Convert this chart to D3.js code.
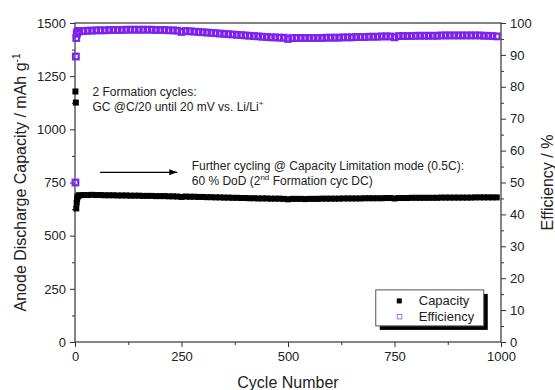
<!DOCTYPE html>
<html>
<head>
<meta charset="utf-8">
<script src="https://cdn.jsdelivr.net/npm/d3@7"></script>
<style>
  html, body { margin: 0; padding: 0; background: #fff; }
  svg { display: block; font-family: "Liberation Sans", Arial, Helvetica, sans-serif; }
</style>
</head>
<body>
<svg id="chart" width="555" height="390"></svg>
<script>
// Cycle numbers (two formation cycles, then every 10th cycle of the long-term test)
const cycles = [
  1, 2, 3, 4, 5, 6, 8, 10,
  20, 30, 40, 50, 60, 70, 80, 90, 100, 110,
  120, 130, 140, 150, 160, 170, 180, 190, 200, 210,
  220, 230, 240, 250, 260, 270, 280, 290, 300, 310,
  320, 330, 340, 350, 360, 370, 380, 390, 400, 410,
  420, 430, 440, 450, 460, 470, 480, 490, 500, 510,
  520, 530, 540, 550, 560, 570, 580, 590, 600, 610,
  620, 630, 640, 650, 660, 670, 680, 690, 700, 710,
  720, 730, 740, 750, 760, 770, 780, 790, 800, 810,
  820, 830, 840, 850, 860, 870, 880, 890, 900, 910,
  920, 930, 940, 950, 960, 970, 980, 990
];

// Anode discharge capacity, mAh g^-1
const capacity = [
  1178, 1126, 628, 655, 672, 682, 688, 690,
  691, 691, 692, 691, 691, 690, 690, 690, 689, 689,
  689, 688, 688, 688, 687, 687, 687, 686, 686, 686,
  685, 685, 684, 682, 684, 683, 683, 682, 682, 681,
  681, 680, 680, 679, 679, 678, 678, 677, 677, 676,
  676, 675, 675, 675, 674, 674, 674, 673, 671, 673,
  673, 673, 672, 673, 673, 673, 674, 674, 674, 674,
  674, 675, 675, 675, 675, 675, 676, 676, 676, 676,
  676, 677, 677, 675, 677, 677, 677, 678, 678, 678,
  678, 678, 678, 678, 679, 679, 679, 679, 679, 679,
  679, 679, 680, 680, 680, 680, 680, 680
];

// Coulombic efficiency, %
const efficiency = [
  50.0, 89.5, 95.3, 96.6, 97.0, 97.2, 97.4, 97.5,
  97.5, 97.6, 97.6, 97.7, 97.7, 97.7, 97.8, 97.8, 97.8, 97.8,
  97.9, 97.9, 97.9, 97.9, 97.9, 97.9, 97.9, 97.8, 97.8, 97.8,
  97.7, 97.7, 97.6, 97.2, 97.5, 97.4, 97.3, 97.2, 97.1, 97.0,
  96.9, 96.8, 96.7, 96.6, 96.5, 96.4, 96.3, 96.2, 96.1, 96.0,
  95.9, 95.8, 95.7, 95.6, 95.5, 95.5, 95.4, 95.4, 95.0, 95.3,
  95.3, 95.3, 95.3, 95.3, 95.3, 95.3, 95.3, 95.4, 95.4, 95.4,
  95.4, 95.5, 95.5, 95.5, 95.6, 95.6, 95.6, 95.7, 95.7, 95.7,
  95.8, 95.8, 95.8, 95.5, 95.9, 95.9, 95.9, 95.9, 96.0, 96.0,
  96.0, 96.0, 96.0, 96.0, 96.1, 96.1, 96.1, 96.1, 96.1, 96.1,
  96.1, 96.1, 96.1, 96.1, 96.0, 96.0, 95.9, 95.8
];

const cycleTicks = [0, 250, 500, 750, 1000];
const cycleMinorTicks = [125, 375, 625, 875];
const capacityTicks = [0, 250, 500, 750, 1000, 1250, 1500];
const capacityMinorTicks = [125, 375, 625, 875, 1125, 1375];
const efficiencyTicks = [0, 10, 20, 30, 40, 50, 60, 70, 80, 90, 100];
const efficiencyMinorTicks = [5, 15, 25, 35, 45, 55, 65, 75, 85, 95];
const seriesNames = ["Capacity", "Efficiency"];

const W = 555, H = 390;
const margin = { top: 23, right: 54, bottom: 48, left: 75 };
const iw = W - margin.left - margin.right;
const ih = H - margin.top - margin.bottom;

const EFF_COLOR = "#7d22ee";
const AXIS_COLOR = "#333";
const TEXT_COLOR = "#222";

const svg = d3.select("#chart");
const g = svg.append("g").attr("transform", `translate(${margin.left},${margin.top})`);

const x = d3.scaleLinear().domain([0, 1000]).range([0, iw]);
const yCap = d3.scaleLinear().domain([0, 1500]).range([ih, 0]);
const yEff = d3.scaleLinear().domain([0, 100]).range([ih, 0]);

// ---- axes -----------------------------------------------------------
function styleAxis(sel) {
  sel.select(".domain").remove();
  sel.selectAll(".tick line").attr("stroke", AXIS_COLOR).attr("stroke-width", 1);
  sel.selectAll(".tick text")
    .attr("fill", TEXT_COLOR)
    .style("font-size", "13px");
}

g.append("g").attr("transform", `translate(0,${ih})`)
  .call(d3.axisBottom(x).tickValues(cycleTicks).tickSize(5).tickPadding(5).tickFormat(d3.format("d")))
  .call(styleAxis);
g.append("g").attr("transform", `translate(0,${ih})`)
  .call(d3.axisBottom(x).tickValues(cycleMinorTicks).tickSize(3).tickFormat(""))
  .call(styleAxis);

g.append("g")
  .call(d3.axisLeft(yCap).tickValues(capacityTicks).tickSize(5).tickPadding(4).tickFormat(d3.format("d")))
  .call(styleAxis);
g.append("g")
  .call(d3.axisLeft(yCap).tickValues(capacityMinorTicks).tickSize(3).tickFormat(""))
  .call(styleAxis);

g.append("g").attr("transform", `translate(${iw},0)`)
  .call(d3.axisRight(yEff).tickValues(efficiencyTicks).tickSize(5).tickPadding(4).tickFormat(d3.format("d")))
  .call(styleAxis);
g.append("g").attr("transform", `translate(${iw},0)`)
  .call(d3.axisRight(yEff).tickValues(efficiencyMinorTicks).tickSize(3).tickFormat(""))
  .call(styleAxis);

// plot frame
g.append("rect")
  .attr("x", 0).attr("y", 0).attr("width", iw).attr("height", ih)
  .attr("fill", "none").attr("stroke", AXIS_COLOR).attr("stroke-width", 1.2);

// ---- data -----------------------------------------------------------
const points = cycles.map((c, i) => ({ cycle: c, cap: capacity[i], eff: efficiency[i] }));

const CAP_SIZE = 6;
g.append("g").selectAll("rect")
  .data(points)
  .join("rect")
  .attr("x", d => x(d.cycle) - CAP_SIZE / 2)
  .attr("y", d => yCap(d.cap) - CAP_SIZE / 2)
  .attr("width", CAP_SIZE).attr("height", CAP_SIZE)
  .attr("fill", "#000");

const EFF_SIZE = 5.6;
g.append("g").selectAll("rect")
  .data(points)
  .join("rect")
  .attr("x", d => x(d.cycle) - EFF_SIZE / 2)
  .attr("y", d => yEff(d.eff) - EFF_SIZE / 2)
  .attr("width", EFF_SIZE).attr("height", EFF_SIZE)
  .attr("fill", "none")
  .attr("stroke", EFF_COLOR)
  .attr("stroke-width", 2.2);

// ---- annotations ----------------------------------------------------
const ann = g.append("g").attr("fill", TEXT_COLOR).style("font-size", "12px");

const t1 = ann.append("text").attr("x", x(41)).attr("y", yCap(1157));
t1.text("2 Formation cycles:");
const t2 = ann.append("text").attr("x", x(41)).attr("y", yCap(1087));
t2.append("tspan").text("GC @C/20 until 20 mV vs. Li/Li");
t2.append("tspan").attr("dy", -5).style("font-size", "8px").text("+");

svg.append("defs").append("marker")
  .attr("id", "arrowhead")
  .attr("markerUnits", "userSpaceOnUse")
  .attr("markerWidth", 9).attr("markerHeight", 7)
  .attr("refX", 8).attr("refY", 3.5)
  .attr("orient", "auto")
  .append("path").attr("d", "M0,0.5 L8,3.5 L0,6.5 Z").attr("fill", "#000");

g.append("line")
  .attr("x1", x(59)).attr("x2", x(240))
  .attr("y1", yCap(798)).attr("y2", yCap(798))
  .attr("stroke", "#000").attr("stroke-width", 1.3)
  .attr("marker-end", "url(#arrowhead)");

const t3 = ann.append("text").attr("x", x(274)).attr("y", yCap(810));
t3.text("Further cycling @ Capacity Limitation mode (0.5C):");
const t4 = ann.append("text").attr("x", x(274)).attr("y", yCap(739));
t4.append("tspan").text("60 % DoD (2");
t4.append("tspan").attr("dy", -5).style("font-size", "8px").text("nd");
t4.append("tspan").attr("dy", 5).text(" Formation cyc DC)");

// ---- legend ---------------------------------------------------------
const lg = g.append("g").attr("transform", `translate(${x(706)},${yCap(245)})`);
const LW = 108, LH = 36;
lg.append("rect").attr("x", 4).attr("y", 4).attr("width", LW).attr("height", LH).attr("fill", "#000");
lg.append("rect").attr("x", 0).attr("y", 0).attr("width", LW).attr("height", LH)
  .attr("fill", "#fff").attr("stroke", "#555").attr("stroke-width", 1);
lg.append("rect").attr("x", 21).attr("y", 8.5).attr("width", 5).attr("height", 5).attr("fill", "#000");
lg.append("rect").attr("x", 21.5).attr("y", 24.5).attr("width", 4.5).attr("height", 4.5)
  .attr("fill", "none").attr("stroke", "#a070e0").attr("stroke-width", 1);
lg.append("text").attr("x", 43).attr("y", 15.5).attr("fill", TEXT_COLOR).style("font-size", "13px").text(seriesNames[0]);
lg.append("text").attr("x", 43).attr("y", 31.5).attr("fill", TEXT_COLOR).style("font-size", "13px").text(seriesNames[1]);

// ---- axis titles ----------------------------------------------------
const yTitle = svg.append("text")
  .attr("transform", `translate(26,${margin.top + ih / 2}) rotate(-90)`)
  .attr("text-anchor", "middle")
  .attr("fill", TEXT_COLOR)
  .style("font-size", "16px");
yTitle.append("tspan").text("Anode Discharge Capacity / mAh g");
yTitle.append("tspan").attr("dy", -6).style("font-size", "10px").text("-1");

svg.append("text")
  .attr("transform", `translate(553,${margin.top + ih / 2}) rotate(-90)`)
  .attr("text-anchor", "middle")
  .attr("fill", TEXT_COLOR)
  .style("font-size", "16px")
  .text("Efficiency / %");

svg.append("text")
  .attr("x", margin.left + iw / 2).attr("y", 388)
  .attr("text-anchor", "middle")
  .attr("fill", TEXT_COLOR)
  .style("font-size", "16px")
  .text("Cycle Number");
</script>
</body>
</html>
